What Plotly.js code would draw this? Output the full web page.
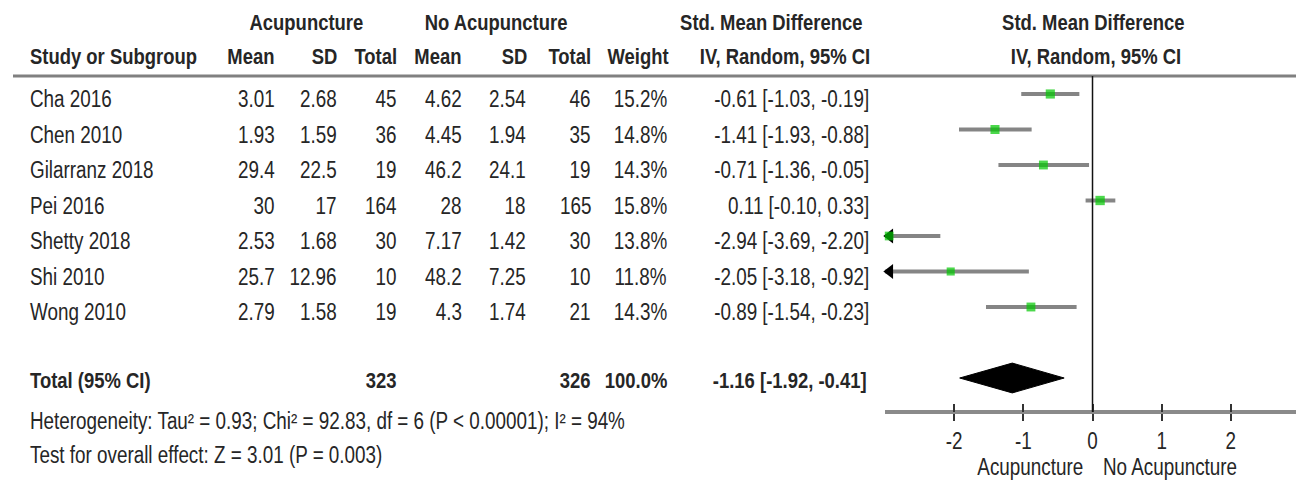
<!DOCTYPE html>
<html>
<head>
<meta charset="utf-8">
<script src="https://cdn.plot.ly/plotly-3.0.1.min.js"></script>
<style>html,body{margin:0;padding:0;background:#fff;}#chart{width:1296px;height:481px;}</style>
</head>
<body>
<div id="chart"></div>
<script>
// ---- data ----
const studies = ["Cha 2016","Chen 2010","Gilarranz 2018","Pei 2016","Shetty 2018","Shi 2010","Wong 2010"];
const acuMean = [3.01,1.93,29.4,30,2.53,25.7,2.79];
const acuSD = [2.68,1.59,22.5,17,1.68,12.96,1.58];
const acuTotal = [45,36,19,164,30,10,19];
const ctlMean = [4.62,4.45,46.2,28,7.17,48.2,4.3];
const ctlSD = [2.54,1.94,24.1,18,1.42,7.25,1.74];
const ctlTotal = [46,35,19,165,30,10,21];
const weights = [15.2,14.8,14.3,15.8,13.8,11.8,14.3];
const smd = [-0.61,-1.41,-0.71,0.11,-2.94,-2.05,-0.89];
const ciLow = [-1.03,-1.93,-1.36,-0.10,-3.69,-3.18,-1.54];
const ciHigh = [-0.19,-0.88,-0.05,0.33,-2.20,-0.92,-0.23];
const totalAcu = 323, totalCtl = 326, totalWeight = 100.0;
const totalSmd = -1.16, totalLow = -1.92, totalHigh = -0.41;
const heterogeneityText = "Heterogeneity: Tau² = 0.93; Chi² = 92.83, df = 6 (P < 0.00001); I² = 94%";
const overallText = "Test for overall effect: Z = 3.01 (P = 0.003)";
const tickVals = [-2,-1,0,1,2];
const favoursLeft = "Acupuncture", favoursRight = "No Acupuncture";

// ---- layout helpers ----
const W = 1296, H = 481;
const FONT = "Liberation Sans, Arial, sans-serif";
const TXT = "#262626";
const FS = 23;
const NARROW = 0.82;                        // horizontal condensing (Arial Narrow look)
const xMin = -3, xMax = 2.942;
const rowTop = 94, rowStep = 35.5;
const yTopVal = -rowTop/rowStep, yBotVal = (H-rowTop)/rowStep;
const py = p => 1 - p/H;
const px = p => p/W;
const axisPix = 412;
const totalRow = studies.length + 1;

const ann = [];
function txt(text, x, xanchor, y, yref, opts) {
  opts = opts || {};
  ann.push(Object.assign({
    text: text, xref: 'paper', x: px(x), xanchor: xanchor, align: xanchor === 'center' ? 'center' : xanchor,
    yref: yref, y: y, yanchor: 'middle', showarrow: false, borderpad: 0,
    font: {family: FONT, size: opts.size || FS, color: TXT}
  }, opts.extra || {}));
}
// headers
const HS = 22.5;
txt("<b>Acupuncture</b>", 306, 'center', py(22), 'paper', {size: HS});
txt("<b>No Acupuncture</b>", 496, 'center', py(22), 'paper', {size: HS});
txt("<b>Std. Mean Difference</b>", 771, 'center', py(22), 'paper', {size: HS});
txt("<b>Std. Mean Difference</b>", 1093, 'center', py(22), 'paper', {size: HS});
txt("<b>Study or Subgroup</b>", 29, 'left', py(56), 'paper', {size: HS});
txt("<b>Mean</b>", 276, 'right', py(56), 'paper', {size: HS});
txt("<b>SD</b>", 338, 'right', py(56), 'paper', {size: HS});
txt("<b>Total</b>", 398, 'right', py(56), 'paper', {size: HS});
txt("<b>Mean</b>", 463, 'right', py(56), 'paper', {size: HS});
txt("<b>SD</b>", 528, 'right', py(56), 'paper', {size: HS});
txt("<b>Total</b>", 592, 'right', py(56), 'paper', {size: HS});
txt("<b>Weight</b>", 670, 'right', py(56), 'paper', {size: HS});
txt("<b>IV, Random, 95% CI</b>", 785, 'center', py(56), 'paper', {size: HS});
txt("<b>IV, Random, 95% CI</b>", 1096, 'center', py(56), 'paper', {size: HS});

// study rows
studies.forEach((s, i) => {
  const o = {extra: {yshift: -5}};
  txt(s, 29, 'left', i, 'y', o);
  txt(String(acuMean[i]), 276, 'right', i, 'y', o);
  txt(String(acuSD[i]), 338, 'right', i, 'y', o);
  txt(String(acuTotal[i]), 398, 'right', i, 'y', o);
  txt(String(ctlMean[i]), 463, 'right', i, 'y', o);
  txt(String(ctlSD[i]), 527, 'right', i, 'y', o);
  txt(String(ctlTotal[i]), 592, 'right', i, 'y', o);
  txt(weights[i].toFixed(1) + "%", 668, 'right', i, 'y', o);
  txt(smd[i].toFixed(2) + " [" + ciLow[i].toFixed(2) + ", " + ciHigh[i].toFixed(2) + "]", 870, 'right', i, 'y', o);
});
// total row
const ot = {size: HS, extra: {yshift: -2}};
txt("<b>Total (95% CI)</b>", 29, 'left', totalRow, 'y', ot);
txt("<b>" + totalAcu + "</b>", 398, 'right', totalRow, 'y', ot);
txt("<b>" + totalCtl + "</b>", 592, 'right', totalRow, 'y', ot);
txt("<b>" + totalWeight.toFixed(1) + "%</b>", 668, 'right', totalRow, 'y', ot);
txt("<b>" + totalSmd.toFixed(2) + " [" + totalLow.toFixed(2) + ", " + totalHigh.toFixed(2) + "]</b>", 868, 'right', totalRow, 'y', ot);
txt(heterogeneityText, 29, 'left', py(421), 'paper', {size: 23});
txt(overallText, 29, 'left', py(455), 'paper', {size: 23});
// favours labels
ann.push({text: favoursLeft, xref: 'x', x: -0.13, xanchor: 'right', align: 'right', yref: 'paper', y: py(467), yanchor: 'middle',
  showarrow: false, borderpad: 0, font: {family: FONT, size: FS, color: TXT}});
ann.push({text: favoursRight, xref: 'x', x: 0.13, xanchor: 'left', align: 'left', yref: 'paper', y: py(467), yanchor: 'middle',
  showarrow: false, borderpad: 0, font: {family: FONT, size: FS, color: TXT}});

// ---- traces ----
const ciX = [], ciY = [];
studies.forEach((s, i) => { ciX.push(ciLow[i], ciHigh[i], null); ciY.push(i, i, null); });
const ciTrace = {x: ciX, y: ciY, mode: 'lines', line: {color: '#858585', width: 4}, hoverinfo: 'skip'};

const arrowIdx = studies.map((s, i) => i).filter(i => ciLow[i] < xMin);
const arrowTrace = {
  x: arrowIdx.map(() => xMin + 0.07), y: arrowIdx, mode: 'markers', cliponaxis: false,
  marker: {symbol: 'triangle-left', color: '#000', size: 13}, hoverinfo: 'skip'
};
const ptTrace = {
  x: smd, y: studies.map((s, i) => i), mode: 'markers', cliponaxis: false,
  marker: {symbol: 'square', color: '#00c800', size: weights.map(w => Math.sqrt(w) * 2.35), line: {width: 0}},
  hoverinfo: 'skip'
};
const dh = 0.42;
const diamond = {
  x: [totalLow, totalSmd, totalHigh, totalSmd, totalLow],
  y: [totalRow, totalRow - dh, totalRow, totalRow + dh, totalRow],
  mode: 'lines', fill: 'toself', fillcolor: '#000', line: {color: '#000', width: 1}, hoverinfo: 'skip'
};
const dummyTop = {x: [0], y: [0], xaxis: 'x2', mode: 'markers', marker: {opacity: 0}, hoverinfo: 'skip'};

const axisPos = py(axisPix);
const layout = {
  width: W, height: H,
  margin: {l: 0, r: 0, t: 0, b: 0, pad: 0},
  paper_bgcolor: '#fff', plot_bgcolor: 'rgba(0,0,0,0)',
  showlegend: false,
  xaxis: {
    domain: [px(885), 1], range: [xMin, xMax], anchor: 'free', position: axisPos,
    showgrid: false, zeroline: false, showline: true, linecolor: '#8a8a8a', linewidth: 4,
    tickmode: 'array', tickvals: tickVals, ticktext: tickVals.map(String),
    ticks: 'outside', ticklen: 7, tickwidth: 2, tickcolor: '#333',
    tickfont: {family: FONT, size: FS, color: TXT}
  },
  xaxis2: {
    domain: [px(885), 1], range: [xMin, xMax], overlaying: 'x', matches: 'x', anchor: 'free', position: axisPos, side: 'top',
    showgrid: false, zeroline: false, showline: false,
    tickmode: 'array', tickvals: tickVals, showticklabels: false,
    ticks: 'outside', ticklen: 8, tickwidth: 2, tickcolor: '#333'
  },
  yaxis: {
    domain: [0, 1], range: [yBotVal, yTopVal], visible: false, showgrid: false, zeroline: false, fixedrange: true
  },
  shapes: [
    {type: 'line', xref: 'paper', x0: px(13), x1: 1, yref: 'paper', y0: py(76), y1: py(76), line: {color: '#808080', width: 3}},
    {type: 'line', xref: 'x', x0: 0, x1: 0, yref: 'paper', y0: py(76), y1: axisPos, line: {color: '#111', width: 1.5}}
  ],
  annotations: ann
};

function condense(gd) {
  gd.querySelectorAll('.annotation-text, .xtick text').forEach(t => {
    const x = parseFloat(t.getAttribute('x')) || 0;
    const prev = t.getAttribute('data-base-transform');
    const base = prev !== null ? prev : (t.getAttribute('transform') || '');
    t.setAttribute('data-base-transform', base);
    t.setAttribute('transform', base + ' translate(' + x + ',0) scale(' + NARROW + ',1) translate(' + (-x) + ',0)');
  });
}
Plotly.newPlot('chart', [ciTrace, arrowTrace, ptTrace, diamond, dummyTop], layout, {staticPlot: true, displayModeBar: false})
  .then(gd => condense(gd));
</script>
</body>
</html>
